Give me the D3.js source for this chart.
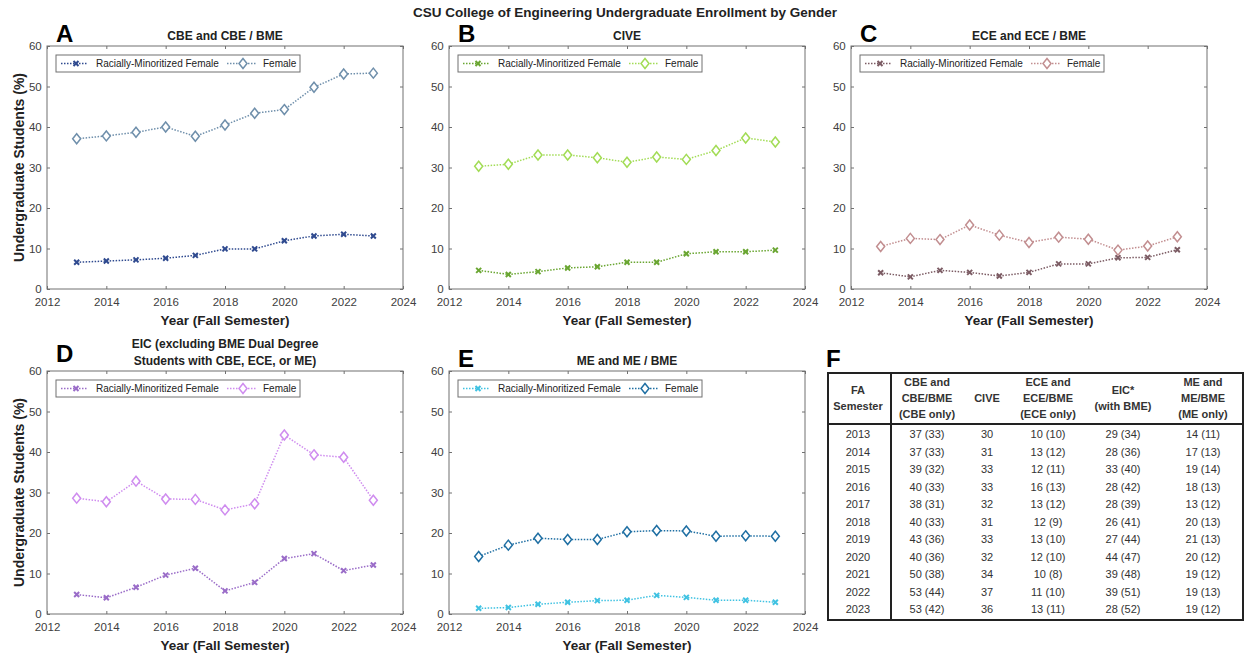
<!DOCTYPE html>
<html>
<head>
<meta charset="utf-8">
<script src="https://cdn.jsdelivr.net/npm/d3@7"></script>
<style>
  body { margin: 0; background: #fff; }
  svg { font-family: "Liberation Sans", Arial, sans-serif; }
</style>
</head>
<body>
<script>
// ---- data ----
var years = [2013, 2014, 2015, 2016, 2017, 2018, 2019, 2020, 2021, 2022, 2023];
var xTicks = [2012, 2014, 2016, 2018, 2020, 2022, 2024];
var yTicks = [0, 10, 20, 30, 40, 50, 60];
var seriesNames = ["Racially-Minoritized Female", "Female"];

var cbeRMF    = [6.6, 6.9, 7.2, 7.6, 8.3, 9.9, 9.9, 11.9, 13.1, 13.5, 13.1];
var cbeFemale = [37.1, 37.8, 38.7, 40.0, 37.7, 40.5, 43.4, 44.3, 49.8, 53.1, 53.3];
var civeRMF    = [4.6, 3.6, 4.3, 5.2, 5.5, 6.6, 6.6, 8.7, 9.2, 9.2, 9.6];
var civeFemale = [30.3, 30.8, 33.1, 33.1, 32.4, 31.3, 32.6, 32.0, 34.2, 37.3, 36.3];
var eceRMF    = [4.0, 3.0, 4.6, 4.1, 3.2, 4.1, 6.2, 6.2, 7.7, 7.8, 9.7];
var eceFemale = [10.5, 12.5, 12.2, 15.8, 13.3, 11.5, 12.8, 12.3, 9.6, 10.6, 12.9];
var eicRMF    = [4.8, 4.0, 6.6, 9.6, 11.3, 5.7, 7.8, 13.7, 14.9, 10.7, 12.1];
var eicFemale = [28.6, 27.7, 32.8, 28.4, 28.3, 25.7, 27.2, 44.2, 39.3, 38.7, 28.1];
var meRMF    = [1.4, 1.6, 2.4, 2.9, 3.3, 3.4, 4.6, 4.1, 3.4, 3.4, 2.9];
var meFemale = [14.2, 17.0, 18.7, 18.4, 18.4, 20.3, 20.6, 20.5, 19.2, 19.3, 19.2];

var tableHeader = [["FA", "Semester"], ["CBE and", "CBE/BME", "(CBE only)"], ["CIVE"],
                   ["ECE and", "ECE/BME", "(ECE only)"], ["EIC*", "(with BME)"], ["ME and", "ME/BME", "(ME only)"]];
var tableCBE  = ["37 (33)", "37 (33)", "39 (32)", "40 (33)", "38 (31)", "40 (33)", "43 (36)", "40 (36)", "50 (38)", "53 (44)", "53 (42)"];
var tableCIVE = ["30", "31", "33", "33", "32", "31", "33", "32", "34", "37", "36"];
var tableECE  = ["10 (10)", "13 (12)", "12 (11)", "16 (13)", "13 (12)", "12 (9)", "13 (10)", "12 (10)", "10 (8)", "11 (10)", "13 (11)"];
var tableEIC  = ["29 (34)", "28 (36)", "33 (40)", "28 (42)", "28 (39)", "26 (41)", "27 (44)", "44 (47)", "39 (48)", "39 (51)", "28 (52)"];
var tableME   = ["14 (11)", "17 (13)", "19 (14)", "18 (13)", "13 (12)", "20 (13)", "21 (13)", "20 (12)", "19 (12)", "19 (13)", "19 (12)"];

var W = 1249, H = 655;
var svg = d3.select("body").append("svg").attr("width", W).attr("height", H);

svg.append("text").attr("x", 625).attr("y", 17).attr("text-anchor", "middle")
  .style("font-weight", "bold").style("font-size", "13.5px").attr("fill", "#222")
  .text("CSU College of Engineering Undergraduate Enrollment by Gender");

var panels = [
  {letter: "A", title: ["CBE and CBE / BME"], left: 47, top: 46, ylab: true,
   series: [cbeRMF, cbeFemale], colors: ["#2f4a8f", "#6f8fab"]},
  {letter: "B", title: ["CIVE"], left: 449, top: 46, ylab: false,
   series: [civeRMF, civeFemale], colors: ["#6aa632", "#a2dc55"]},
  {letter: "C", title: ["ECE and ECE / BME"], left: 851, top: 46, ylab: false,
   series: [eceRMF, eceFemale], colors: ["#7c5c64", "#c28e90"]},
  {letter: "D", title: ["EIC (excluding BME Dual Degree", "Students with CBE, ECE, or ME)"], left: 47, top: 371, ylab: true,
   series: [eicRMF, eicFemale], colors: ["#9a6cc8", "#cf8cef"]},
  {letter: "E", title: ["ME and ME / BME"], left: 449, top: 371, ylab: false,
   series: [meRMF, meFemale], colors: ["#3fc2e2", "#1f6fa3"]}
];

var pw = 356, ph = 243;

function marker(g, type, x, y, color) {
  if (type === 0) {
    g.append("path").attr("d", "M-2.5,-2.5L2.5,2.5M-2.5,2.5L2.5,-2.5")
      .attr("transform", "translate(" + x + "," + y + ")")
      .attr("stroke", color).attr("stroke-width", 2).attr("fill", "none");
  } else {
    g.append("path").attr("d", "M0,-5L4,0L0,5L-4,0Z")
      .attr("transform", "translate(" + x + "," + y + ")")
      .attr("stroke", color).attr("stroke-width", 1.5).attr("fill", "#fff");
  }
}

panels.forEach(function(p) {
  var x = d3.scaleLinear().domain([2012, 2024]).range([p.left, p.left + pw]);
  var y = d3.scaleLinear().domain([0, 60]).range([p.top + ph, p.top]);
  var g = svg.append("g");

  g.append("rect").attr("x", p.left).attr("y", p.top).attr("width", pw).attr("height", ph)
    .attr("fill", "#fff").attr("stroke", "#707070").attr("stroke-width", 1);

  // axes, ticks inward on all four sides
  var ax = [
    d3.axisBottom(x).tickValues(xTicks).tickFormat(d3.format("d")).tickSizeInner(-3).tickSizeOuter(0),
    d3.axisTop(x).tickValues(xTicks).tickFormat("").tickSizeInner(-3).tickSizeOuter(0),
    d3.axisLeft(y).tickValues(yTicks).tickSizeInner(-3).tickSizeOuter(0),
    d3.axisRight(y).tickValues(yTicks).tickFormat("").tickSizeInner(-3).tickSizeOuter(0)
  ];
  var tr = ["translate(0," + (p.top + ph) + ")", "translate(0," + p.top + ")",
            "translate(" + p.left + ",0)", "translate(" + (p.left + pw) + ",0)"];
  ax.forEach(function(a, i) {
    var ag = g.append("g").attr("transform", tr[i]).call(a);
    ag.select(".domain").remove();
    ag.selectAll("line").attr("stroke", "#707070");
    ag.selectAll("text").attr("fill", "#404040").style("font-size", "11.5px")
      .style("font-family", "Liberation Sans, Arial, sans-serif");
    if (i === 0) ag.selectAll("text").attr("dy", "1.2em");
    if (i === 2) ag.selectAll("text").attr("dx", "-0.2em");
  });

  var line = d3.line().x(function(d, i) { return x(years[i]); }).y(function(d) { return y(d); });
  p.series.forEach(function(s, k) {
    g.append("path").datum(s).attr("d", line).attr("fill", "none")
      .attr("stroke", p.colors[k]).attr("stroke-width", 1.5).attr("stroke-dasharray", "1.5,1.5");
    s.forEach(function(v, i) { marker(g, k, x(years[i]), y(v), p.colors[k]); });
  });

  // legend
  var lx = p.left + 9, ly = p.top + 9;
  g.append("rect").attr("x", lx).attr("y", ly).attr("width", 244).attr("height", 17)
    .attr("fill", "#fff").attr("stroke", "#707070").attr("stroke-width", 1);
  var offs = [[5, 32, 20, 40], [171, 201, 187, 207]];
  offs.forEach(function(o, k) {
    g.append("line").attr("x1", lx + o[0]).attr("x2", lx + o[1]).attr("y1", ly + 8.5).attr("y2", ly + 8.5)
      .attr("stroke", p.colors[k]).attr("stroke-width", 1.5).attr("stroke-dasharray", "1.5,1.5");
    marker(g, k, lx + o[2], ly + 8.5, p.colors[k]);
    g.append("text").attr("x", lx + o[3]).attr("y", ly + 12).style("font-size", "10px").attr("fill", "#222")
      .text(seriesNames[k]);
  });

  // titles and labels
  var tl = p.title.length;
  p.title.forEach(function(t, i) {
    g.append("text").attr("x", p.left + pw / 2).attr("y", p.top - 6 - (tl - 1 - i) * 17)
      .attr("text-anchor", "middle").style("font-weight", "bold").style("font-size", "12px").attr("fill", "#222").text(t);
  });
  g.append("text").attr("x", p.left + pw / 2).attr("y", p.top + ph + 36).attr("text-anchor", "middle")
    .style("font-weight", "bold").style("font-size", "13.5px").attr("fill", "#222").text("Year (Fall Semester)");
  if (p.ylab) {
    g.append("text").attr("transform", "translate(24," + (p.top + ph / 2) + ") rotate(-90)")
      .attr("text-anchor", "middle").style("font-weight", "bold").style("font-size", "14px").attr("fill", "#222")
      .text("Undergraduate Students (%)");
  }
  g.append("text").attr("x", p.left + 9).attr("y", p.top - 4 + (p.letter === "D" ? -5 : 0))
    .style("font-weight", "bold").style("font-size", "24px").attr("fill", "#000").text(p.letter);
});

// ---- panel F: table ----
svg.append("text").attr("x", 826).attr("y", 367).style("font-weight", "bold").style("font-size", "24px")
  .attr("fill", "#000").text("F");

var tx0 = 828, tx1 = 1243, ty0 = 373, ty1 = 620, hy = 424;
var colX = [858, 927, 987, 1048, 1123, 1203];
var tg = svg.append("g").style("font-family", "Liberation Sans, Arial, sans-serif");
tg.append("rect").attr("x", tx0).attr("y", ty0).attr("width", tx1 - tx0).attr("height", ty1 - ty0)
  .attr("fill", "none").attr("stroke", "#222").attr("stroke-width", 2);
tg.append("line").attr("x1", tx0).attr("x2", tx1).attr("y1", hy).attr("y2", hy).attr("stroke", "#222").attr("stroke-width", 2);
tg.append("line").attr("x1", 891).attr("x2", 891).attr("y1", ty0).attr("y2", ty1).attr("stroke", "#222").attr("stroke-width", 2);

tableHeader.forEach(function(lines, c) {
  var n = lines.length;
  lines.forEach(function(t, i) {
    tg.append("text").attr("x", colX[c]).attr("y", 398 + (i - (n - 1) / 2) * 16 + 4)
      .attr("text-anchor", "middle").style("font-weight", "bold").style("font-size", "11px").attr("fill", "#333").text(t);
  });
});

var rowY = d3.scaleLinear().domain([2013, 2023]).range([434, 609]);
var cols = [years.map(String), tableCBE, tableCIVE, tableECE, tableEIC, tableME];
cols.forEach(function(col, c) {
  col.forEach(function(t, i) {
    tg.append("text").attr("x", colX[c]).attr("y", rowY(years[i]) + 4).attr("text-anchor", "middle")
      .style("font-size", "11px").attr("fill", "#333").text(t);
  });
});
</script>
</body>
</html>
